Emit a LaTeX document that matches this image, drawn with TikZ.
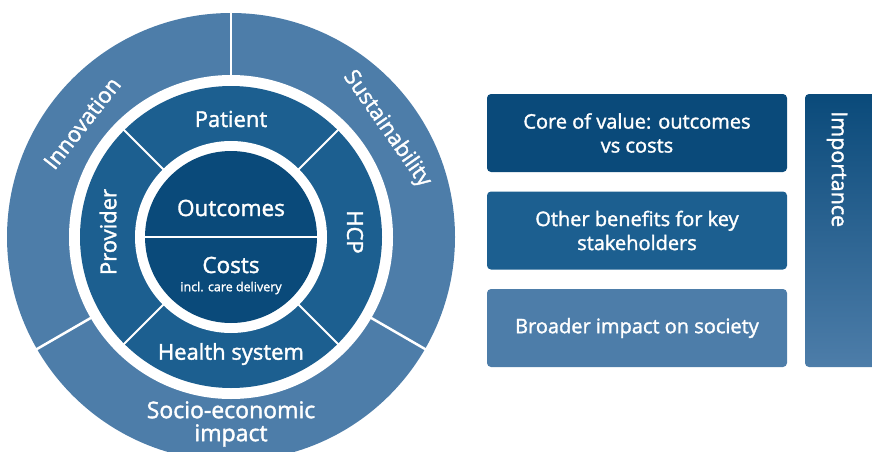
\documentclass[tikz,border=0pt]{standalone}
\usepackage{fontspec}
\setmainfont{Open Sans}[RawFeature={embolden=1.6}]
\definecolor{cdark}{HTML}{0A4A7A}
\definecolor{cmid}{HTML}{1C5F90}
\definecolor{clight}{HTML}{4D7DA9}
\begin{document}
\begin{tikzpicture}[x=1pt,y=-1pt,
  wtext/.style={text=white,inner sep=0pt},
  sep/.style={draw=white,line width=2.5pt},
  boxnode/.style={rounded corners=4pt,minimum width=300pt,minimum height=78pt,
     text=white,align=center,font=\fontsize{20}{24}\selectfont,inner sep=0pt}]
\useasboundingbox (0,0) rectangle (872,452);
\clip (0,0) rectangle (872,452);
\coordinate (c) at (231,237);
% outer ring
\fill[clight] (c) circle[radius=224pt];
\foreach \a in {90,210,330} \draw[sep] (c) ++(\a:160pt) -- ++(\a:70pt);
\fill[white] (c) circle[radius=162pt];
% middle ring
\fill[cmid] (c) circle[radius=151pt];
\foreach \a in {45,135,225,315} \draw[sep,line width=2pt] (c) ++(\a:94pt) -- ++(\a:60pt);
\fill[white] (c) circle[radius=96pt];
% core
\fill[cdark] (c) circle[radius=86pt];
\draw[sep,line width=2pt] (c) ++(-87pt,0) -- ++(174pt,0);
% labels
\node[wtext,font=\fontsize{22.5}{24}\selectfont] (out) at (231,208) {Outcomes};
\node[wtext,font=\fontsize{22.5}{24}\selectfont] (cost) at (231,265) {Costs};
\node[wtext,font=\fontsize{12.5}{14}\selectfont] (incl) at (231,288) {incl. care delivery};
\node[wtext,font=\fontsize{22}{24}\selectfont] (pat) at (231,119) {Patient};
\node[wtext,font=\fontsize{22}{24}\selectfont] (hs) at (231,354) {Health system};
\node[wtext,font=\fontsize{22}{24}\selectfont,rotate=90] (prov) at (108,232) {Provider};
\node[wtext,font=\fontsize{22}{24}\selectfont,rotate=-90] (hcp) at (355,232) {HCP};
\node[wtext,font=\fontsize{22}{24}\selectfont,rotate=52] (inno) at (82,123) {Innovation};
\node[wtext,font=\fontsize{22}{24}\selectfont,rotate=-55] (sust) at (387,129) {Sustainability};
\node[wtext,font=\fontsize{23}{23}\selectfont,align=center] (soc) at (231,424) {Socio-economic\\impact};
% boxes
\node[boxnode,fill=cdark] (b1) at (637,133) {Core of value: outcomes\\vs costs};
\node[boxnode,fill=cmid] (b2) at (637,230.5) {Other benefits for key\\stakeholders};
\node[boxnode,fill=clight] (b3) at (637,328) {Broader impact on society};
\shade[top color=cdark,bottom color=clight,rounded corners=4pt] (805,94) rectangle (885,367);
\node[wtext,font=\fontsize{21.5}{24}\selectfont,rotate=-90,anchor=west] (imp) at (837,111) {Importance};
\end{tikzpicture}
\end{document}
